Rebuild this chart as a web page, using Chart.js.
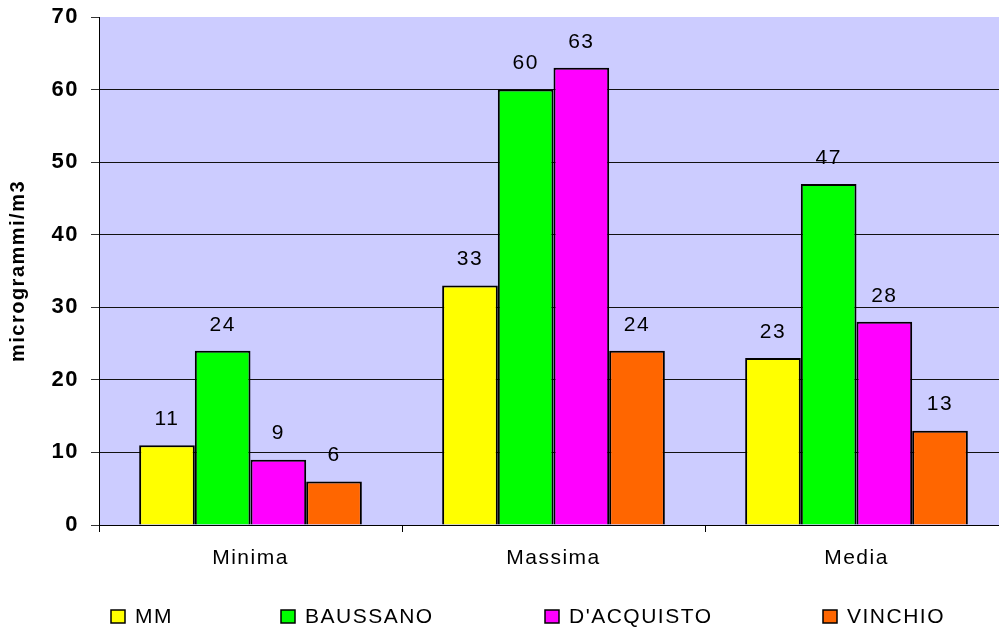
<!DOCTYPE html>
<html>
<head>
<meta charset="utf-8">
<script src="https://cdn.jsdelivr.net/npm/chart.js@4.4.1/dist/chart.umd.min.js"></script>
<style>
  html, body { margin: 0; padding: 0; background: #fff; overflow: hidden; }
  #wrap { width: 999px; height: 630px; overflow: hidden; }
  #wrap canvas { display: block; }
</style>
</head>
<body>
<div id="wrap"><canvas id="chart" width="1010" height="630"></canvas></div>
<script>
// data
const categories = ['Minima', 'Massima', 'Media'];
const seriesNames = ['MM', 'BAUSSANO', "D'ACQUISTO", 'VINCHIO'];
const mmValues = [11, 33, 23];
const baussanoValues = [24, 60, 47];
const dacquistoValues = [9, 63, 28];
const vinchioValues = [6, 24, 13];
const yTicks = [0, 10, 20, 30, 40, 50, 60, 70];

const seriesColors = ['#FFFF00', '#00FF00', '#FF00FF', '#FF6600'];
const legendX = [111, 281, 545, 823];
const FONT = '"Liberation Sans", Arial, sans-serif';

// plot background + letter spacing like the original
const backdrop = {
    id: 'backdrop',
    beforeDraw(chart) {
        const {ctx, chartArea: a} = chart;
        ctx.letterSpacing = '1.5px';
        ctx.save();
        ctx.fillStyle = '#CCCCFF';
        ctx.fillRect(a.left, a.top, a.right - a.left, a.bottom - a.top);
        ctx.restore();
    }
};

// value above each bar
const valueLabels = {
    id: 'valueLabels',
    afterDatasetsDraw(chart) {
        const ctx = chart.ctx;
        ctx.save();
        ctx.font = '21px ' + FONT;
        ctx.fillStyle = '#000';
        ctx.textAlign = 'center';
        ctx.textBaseline = 'middle';
        chart.data.datasets.forEach(function(ds, i) {
            chart.getDatasetMeta(i).data.forEach(function(bar, j) {
                ctx.fillText(String(ds.data[j]), bar.x, bar.y - 26);
            });
        });
        ctx.restore();
    }
};

// legend at the bottom, spaced like the Excel one
const bottomLegend = {
    id: 'bottomLegend',
    afterDraw(chart) {
        const ctx = chart.ctx;
        ctx.save();
        ctx.font = '21px ' + FONT;
        ctx.textAlign = 'left';
        ctx.textBaseline = 'middle';
        chart.data.datasets.forEach(function(ds, i) {
            const x = legendX[i];
            ctx.fillStyle = ds.backgroundColor;
            ctx.fillRect(x, 610, 14, 13);
            ctx.strokeStyle = '#000';
            ctx.lineWidth = 1.5;
            ctx.strokeRect(x, 610, 14, 13);
            ctx.fillStyle = '#000';
            ctx.fillText(ds.label, x + 24, 617);
        });
        ctx.restore();
    }
};

const allValues = [mmValues, baussanoValues, dacquistoValues, vinchioValues];

new Chart(document.getElementById('chart').getContext('2d'), {
    type: 'bar',
    data: {
        labels: categories,
        datasets: seriesNames.map(function(name, i) {
            return {
                label: name,
                data: allValues[i],
                backgroundColor: seriesColors[i],
                borderColor: '#000',
                borderWidth: 2,
                categoryPercentage: 0.735,
                barPercentage: 1.0
            };
        })
    },
    options: {
        responsive: false,
        animation: false,
        layout: { padding: { top: 17, right: 2, left: 0, bottom: 0 } },
        plugins: {
            legend: { display: false },
            tooltip: { enabled: false }
        },
        scales: {
            x: {
                offset: true,
                grid: {
                    display: true,
                    offset: true,
                    drawOnChartArea: false,
                    color: '#000',
                    tickLength: 7
                },
                border: { display: true, color: '#000', width: 1 },
                ticks: {
                    color: '#000',
                    padding: 14,
                    font: { family: FONT, size: 21 }
                },
                afterFit(scale) {
                    scale.height = 105;
                    scale.paddingLeft = 0;
                    scale.paddingRight = 0;
                }
            },
            y: {
                min: 0,
                max: 70,
                afterBuildTicks(scale) {
                    scale.ticks = yTicks.map(function(v) { return { value: v }; });
                },
                grid: {
                    color: function(c) { return c.tick && c.tick.value === 70 ? 'rgba(0,0,0,0)' : '#111'; },
                    tickColor: '#333',
                    tickLength: 8,
                    lineWidth: 1
                },
                border: { display: true, color: '#000', width: 1 },
                ticks: {
                    color: '#000',
                    padding: 12,
                    font: { family: FONT, size: 22, weight: 'bold' }
                },
                title: {
                    display: true,
                    text: 'microgrammi/m3',
                    color: '#000',
                    padding: { top: 6, bottom: 0 },
                    font: { family: FONT, size: 20, weight: 'bold' }
                },
                afterFit(scale) {
                    scale.width = 99;
                    scale.paddingTop = 0;
                    scale.paddingBottom = 0;
                }
            }
        }
    },
    plugins: [backdrop, valueLabels, bottomLegend]
});
</script>
</body>
</html>
